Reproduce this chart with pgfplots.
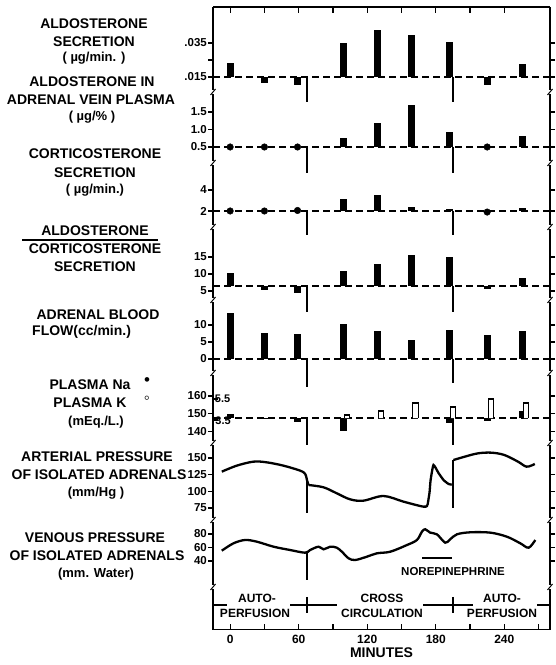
\documentclass[border=0pt]{standalone}
\usepackage{fontspec}
\setmainfont{Liberation Sans}
\usepackage{pgfplots}
\pgfplotsset{compat=1.18}
\tikzset{spine/.style={line width=1.3pt}}
\pgfplotsset{
  panel/.style={scale only axis, width=337pt, xmin=-15, xmax=280, anchor=south west,
    axis line style={draw=none}, xtick=\empty, clip=false, tick align=outside,
    scaled y ticks=false,
    major tick length=5pt, every tick/.style={black,line width=1.1pt},
    yticklabel style={font=\bfseries\fontsize{11.5}{12}\selectfont, inner sep=1pt},
    unbounded coords=jump},
  bars/.style={black, line width=7pt, line cap=butt, no markers},
  base/.style={black, line width=1.7pt, dash pattern=on 7pt off 4pt, no markers},
  divider/.style={black, line width=2pt, no markers},
  dots/.style={black, only marks, mark=*, mark size=3.3pt},
  curve/.style={black, line width=2.3pt, no markers, smooth, tension=0.55},
}
\newcommand{\spines}[2]{%
 \draw[spine, shorten <=#1, shorten >=#2] (rel axis cs:0,0) -- (rel axis cs:0,1);
 \draw[spine, shorten <=#1, shorten >=#2] (rel axis cs:1,0) -- (rel axis cs:1,1);}
\newcommand{\brk}{%
 \draw[line width=1pt] ([shift={(-2.5pt,-3pt)}]rel axis cs:0,1) -- ([shift={(2.5pt,3pt)}]rel axis cs:0,1);
 \draw[line width=1pt] ([shift={(-2.5pt,-3pt)}]rel axis cs:1,1) -- ([shift={(2.5pt,3pt)}]rel axis cs:1,1);}
\begin{document}
\begin{tikzpicture}[x=1pt,y=1pt]
\useasboundingbox (0pt,0pt) rectangle (556pt,665pt);
% left labels
\begin{scope}[every node/.style={font=\bfseries\fontsize{14}{14}\selectfont, inner sep=0pt}]
\node at (94pt,641pt) {ALDOSTERONE};
\node at (94pt,623pt) {SECRETION};
\node[font=\bfseries\fontsize{13}{13}\selectfont] at (94pt,607pt) {( µg/min. )};
\node at (92pt,583pt) {ALDOSTERONE IN};
\node at (91pt,565pt) {ADRENAL VEIN PLASMA};
\node[font=\bfseries\fontsize{13}{13}\selectfont] at (92pt,548pt) {( µg/\% )};
\node at (95pt,511pt) {CORTICOSTERONE};
\node at (95pt,492pt) {SECRETION};
\node[font=\bfseries\fontsize{13}{13}\selectfont] at (95pt,475pt) {( µg/min.)};
\node at (95pt,434pt) {ALDOSTERONE};
\node at (95pt,416pt) {CORTICOSTERONE};
\node at (95pt,398pt) {SECRETION};
\node at (98pt,350pt) {ADRENAL BLOOD};
\node[anchor=west] at (32pt,333pt) {FLOW(cc/min.)};
\node at (90pt,280pt) {PLASMA Na};
\node[font=\fontsize{17}{17}\selectfont] at (147pt,283pt) {•};
\node at (90pt,262pt) {PLASMA K};
\node[font=\bfseries\fontsize{17}{17}\selectfont] at (147pt,265pt) {◦};
\node[font=\bfseries\fontsize{13}{13}\selectfont] at (96pt,243pt) {(mEq./L.)};
\node at (97pt,208pt) {ARTERIAL PRESSURE};
\node at (99pt,190pt) {OF ISOLATED ADRENALS};
\node[font=\bfseries\fontsize{13}{13}\selectfont] at (96pt,172pt) {(mm/Hg )};
\node at (95pt,127pt) {VENOUS PRESSURE};
\node at (97pt,109pt) {OF ISOLATED ADRENALS};
\node[font=\bfseries\fontsize{13}{13}\selectfont] at (96pt,91pt) {(mm. Water)};
\end{scope}
\draw[line width=1.2pt] (22pt,425pt) -- (158pt,425pt);
\begin{scope}[every node/.style={font=\bfseries\fontsize{12}{12}\selectfont, inner sep=0pt}]
\node at (257pt,67pt) {AUTO-};
\node at (255pt,52pt) {PERFUSION};
\node at (382pt,67pt) {CROSS};
\node at (382pt,52pt) {CIRCULATION};
\node at (502pt,67pt) {AUTO-};
\node at (502pt,52pt) {PERFUSION};
\node[font=\bfseries\fontsize{11.5}{12}\selectfont] at (453pt,93pt) {NOREPINEPHRINE};
\end{scope}
% frame (bottom ticks, labels)
\begin{axis}[scale only axis, width=337pt, height=623pt, at={(213pt,35pt)}, anchor=south west,
  xmin=-15, xmax=280, ymin=0, ymax=1, axis line style={draw=none}, ytick=\empty,
  xtick={0,30,...,270}, xticklabels={\textbf{0},,\textbf{60},,\textbf{120},,\textbf{180},,\textbf{240},},
  xtick pos=left,
  tick align=inside, major tick length=6pt, every tick/.style={black,line width=1.1pt},
  xticklabel style={font=\bfseries\fontsize{12}{12}\selectfont, yshift=-2pt},
  xlabel={\textbf{MINUTES}}, xlabel style={font=\bfseries\fontsize{14}{14}\selectfont, yshift=3pt}]
\draw[spine] (rel axis cs:0,1) -- (rel axis cs:1,1);
\draw[spine] (rel axis cs:0,0) -- (rel axis cs:1,0);
\end{axis}
% top ticks
\begin{axis}[scale only axis, width=337pt, height=623pt, at={(213pt,35pt)}, anchor=south west,
  xmin=-15, xmax=280, ymin=0, ymax=1, axis line style={draw=none}, ytick=\empty,
  xtick={0,30,...,240}, xticklabels={}, xtick pos=right,
  tick align=inside, major tick length=6pt, every tick/.style={black,line width=1.1pt}]
\end{axis}
% P1 aldosterone secretion
\begin{axis}[panel, at={(213pt,573pt)}, height=85pt, ymin=0.00618, ymax=0.05618,
  ytick={0.015,0.025,0.035}, yticklabels={\textbf{.015},,\textbf{.035}}]
\spines{2pt}{0pt}
\addplot[base] coordinates {(-15,0.015) (280,0.015)};
\addplot[bars] coordinates {(0,0.015) (0,0.0232) (0,nan) (30,0.015) (30,0.0115) (30,nan)
 (59,0.015) (59,0.0105) (59,nan) (99,0.015) (99,0.035) (99,nan) (129,0.015) (129,0.0425) (129,nan)
 (159,0.015) (159,0.0397) (159,nan) (192,0.015) (192,0.0356) (192,nan) (225,0.015) (225,0.0105) (225,nan)
 (256,0.015) (256,0.0226)};
\addplot[divider] coordinates {(67.2,0.015) (67.2,0.0003) (67.2,nan) (195,0.015) (195,0.0003)};
\end{axis}
% P2 aldosterone in adrenal vein plasma
\begin{axis}[panel, at={(213pt,502pt)}, height=71pt, ymin=0.043, ymax=2.071,
  ytick={0.5,1,1.5}, yticklabels={\textbf{0.5},\textbf{1.0},\textbf{1.5}}]
\spines{2pt}{2pt}\brk
\addplot[base] coordinates {(-15,0.5) (280,0.5)};
\addplot[dots] coordinates {(0,0.5) (30,0.5) (59,0.5) (225,0.5)};
\addplot[bars] coordinates {(99,0.5) (99,0.76) (99,nan) (129,0.5) (129,1.19) (129,nan)
 (159,0.5) (159,1.7) (159,nan) (192,0.5) (192,0.93) (192,nan) (256,0.5) (256,0.81)};
\addplot[divider] coordinates {(67.2,0.5) (67.2,-0.243) (67.2,nan) (195,0.5) (195,-0.243)};
\end{axis}
% P3 corticosterone secretion
\begin{axis}[panel, at={(213pt,438pt)}, height=64pt, ymin=0.476, ymax=6.571,
  ytick={2,4}, yticklabels={\textbf{2},\textbf{4}}]
\spines{2pt}{2pt}\brk
\addplot[base] coordinates {(-15,2) (280,2)};
\addplot[dots] coordinates {(0,2) (30,2) (59,2.05) (225,1.9)};
\addplot[bars] coordinates {(99,2) (99,3.11) (99,nan) (129,2) (129,3.52) (129,nan)
 (159,2) (159,2.41) (159,nan) (192,2) (192,2.16) (192,nan) (256,2) (256,2.31)};
\addplot[divider] coordinates {(67.2,2) (67.2,-0.285) (67.2,nan) (195,2) (195,-0.285)};
\end{axis}
% P4 aldosterone / corticosterone
\begin{axis}[panel, at={(213pt,365pt)}, height=73pt, ymin=2.35, ymax=23.82,
  ytick={5,10,15}, yticklabels={\textbf{5},\textbf{10},\textbf{15}}]
\spines{2pt}{2pt}\brk
\addplot[base] coordinates {(-15,6.47) (280,6.47)};
\addplot[bars] coordinates {(0,6.47) (0,10.3) (0,nan) (30,6.47) (30,5.3) (30,nan)
 (59,6.47) (59,4.4) (59,nan) (99,6.47) (99,10.9) (99,nan) (129,6.47) (129,12.9) (129,nan)
 (159,6.47) (159,15.6) (159,nan) (192,6.47) (192,15) (192,nan) (225,6.47) (225,5.6) (225,nan)
 (256,6.47) (256,8.8)};
\addplot[divider] coordinates {(67.2,6.47) (67.2,-1.17) (67.2,nan) (195,6.47) (195,-1.17)};
\end{axis}
% P5 adrenal blood flow
\begin{axis}[panel, at={(213pt,292pt)}, height=73pt, ymin=-4.12, ymax=17.35,
  ytick={0,5,10}, yticklabels={\textbf{0},\textbf{5},\textbf{10}}]
\spines{2pt}{2pt}\brk
\addplot[base] coordinates {(-15,0) (280,0)};
\addplot[bars] coordinates {(0,0) (0,13.6) (0,nan) (30,0) (30,7.6) (30,nan)
 (59,0) (59,7.4) (59,nan) (99,0) (99,10.3) (99,nan) (129,0) (129,8.2) (129,nan)
 (159,0) (159,5.6) (159,nan) (192,0) (192,8.5) (192,nan) (225,0) (225,7.1) (225,nan)
 (256,0) (256,8.2)};
\addplot[divider] coordinates {(67.2,0) (67.2,-8.2) (67.2,nan) (195,0) (195,-7)};
\end{axis}
% P6 plasma Na
\begin{axis}[panel, at={(213pt,222pt)}, height=70pt, ymin=133.2, ymax=173.1,
  ytick={140,150,160}, yticklabels={\textbf{140},\textbf{150},\textbf{160}}]
\spines{2pt}{2pt}\brk
\addplot[base] coordinates {(-15,147.4) (280,147.4)};
\addplot[bars] coordinates {(0,147.4) (0,150) (0,nan) (30,147.4) (30,146.8) (30,nan)
 (59,147.4) (59,145) (59,nan) (99,147.4) (99,140) (99,nan)
 (192,147.4) (192,144.5) (192,nan) (225,147.4) (225,145.5) (225,nan) (256,147.4) (256,151.5)};
\addplot[divider] coordinates {(67.2,147.4) (67.2,132) (67.2,nan) (195,147.4) (195,132)};
\end{axis}
% P6 plasma K (open bars)
\begin{axis}[panel, at={(213pt,222pt)}, height=70pt, ymin=1.31, ymax=7.98,
  ytick={3.5,5.5}, yticklabels={{},{}}, tick align=inside, ytick pos=left]
\node[anchor=west, font=\bfseries\fontsize{11}{11}\selectfont, inner sep=0pt] at (axis cs:-13.5,5.5) {5.5};
\node[anchor=west, font=\bfseries\fontsize{11}{11}\selectfont, inner sep=0pt] at (axis cs:-13,3.4) {3.5};
\addplot[black, line width=1.1pt, fill=white, no markers] coordinates {
 (100,3.69) (100,3.98) (104.5,3.98) (104.5,3.69) (104.5,nan)
 (130,3.69) (130,4.36) (134.5,4.36) (134.5,3.69) (134.5,nan)
 (160,3.69) (160,5.12) (164.5,5.12) (164.5,3.69) (164.5,nan)
 (193,3.69) (193,4.74) (197.5,4.74) (197.5,3.69) (197.5,nan)
 (226,3.69) (226,5.5) (230.5,5.5) (230.5,3.69) (230.5,nan)
 (257,3.69) (257,5.12) (261.5,5.12) (261.5,3.69)};
\end{axis}
% P7 arterial pressure
\begin{axis}[panel, at={(213pt,145pt)}, height=77pt, ymin=57, ymax=172.5,
  ytick={75,100,125,150}, yticklabels={\textbf{75},\textbf{100},\textbf{125},\textbf{150}}]
\spines{2pt}{2pt}\brk
\addplot[curve] coordinates {(-7.3,129.5) (5.8,138.5) (20.4,144.5) (32,143.5) (46.7,138.5) (61.3,131) (65.7,126) (67.2,117)};
\addplot[black, line width=2.3pt] coordinates {(67.2,117) (68.6,109.5)};
\addplot[curve] coordinates {(68.6,109.5) (81.8,106) (93.4,97) (105,88) (116.7,86) (134.3,93) (151.8,84.5) (169.3,77) (172.8,79.5)};
\addplot[black, line width=2.3pt, smooth, tension=0.3] coordinates {(172.8,79.5) (174.5,97.5) (175.5,117) (178,139.5) (182.4,127.5) (186.8,117) (191.2,111) (194,110)};
\addplot[divider] coordinates {(67.2,117) (67.2,67)};
\addplot[divider] coordinates {(195,147) (195,75)};
\addplot[curve] coordinates {(195.5,147) (205.4,152) (217,157) (228.7,158) (240,154.5) (252,144.5) (259.5,137) (266.7,141)};
\end{axis}
% P8 venous pressure
\begin{axis}[panel, at={(213pt,78pt)}, height=67pt, ymin=1.56, ymax=100.7,
  ytick={40,60,80}, yticklabels={\textbf{40},\textbf{60},\textbf{80}}]
\spines{2pt}{2pt}\brk
\addplot[curve] coordinates {(-7.3,55.3) (2.9,66.2) (13.1,71.1) (23.4,68.6) (38,61.2) (52.5,56.3) (65.7,52.3)
 (70,56.3) (77.4,61.2) (81.8,57.3) (87.6,61.2) (93.4,59.7) (97.8,53.8) (103.7,44) (109.5,41.5)
 (119.7,46.4) (128.5,51.4) (140.2,53.8) (154.8,63.7) (163.5,71.1) (167.9,83.4) (170.8,87)
 (175.1,82) (181,79.5) (188.3,67.1) (192.6,72.1) (198.5,79.5) (210.2,82.5) (227.7,82)
 (242.3,76) (254,66.2) (261.3,59.7) (267.1,71.1)};
\addplot[divider] coordinates {(67.2,52.5) (67.2,11.9)};
\addplot[black, line width=1.8pt] coordinates {(168,44.5) (194,44.5)};
\end{axis}
% P9 phases
\begin{axis}[panel, at={(213pt,35pt)}, height=43pt, ymin=0, ymax=1, ytick=\empty]
\spines{0pt}{2pt}\brk
\addplot[black, line width=1.5pt, no markers] coordinates {(-15,0.58) (-2.6,0.58) (-2.6,nan)
 (52.5,0.58) (93.7,0.58) (93.7,nan) (169,0.58) (213,0.58) (213,nan) (269,0.58) (280,0.58)};
\addplot[black, line width=1.5pt, no markers] coordinates {(67.2,0.77) (67.2,0.39) (67.2,nan) (195,0.77) (195,0.39)};
\end{axis}
\end{tikzpicture}
\end{document}
